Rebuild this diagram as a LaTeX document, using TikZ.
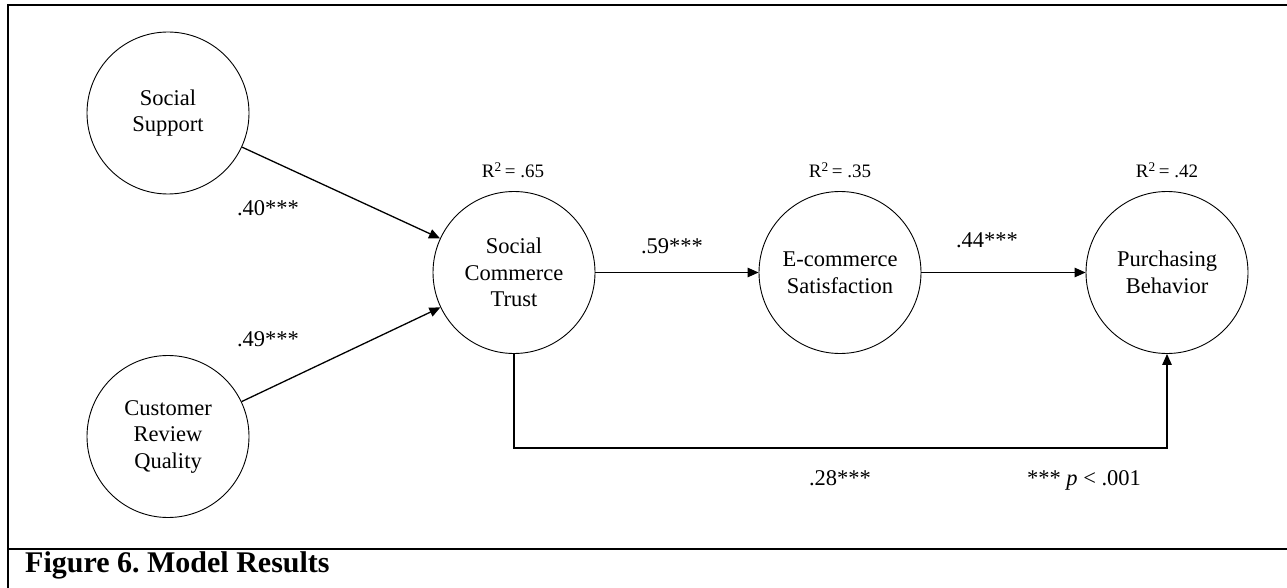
\documentclass[tikz,border=0pt]{standalone}
\usepackage{fontspec}
\setmainfont{Liberation Serif}
\usetikzlibrary{arrows.meta}
\frenchspacing
\tikzset{
  construct/.style={draw, line width=0.9pt, circle, minimum size=162pt, inner sep=0pt, align=center, font=\fontsize{22.5}{26.5}\selectfont},
  path/.style={line width=1.3pt, -{Triangle[length=11pt,width=9.5pt]}},
  coef/.style={anchor=base, inner sep=0pt, font=\fontsize{22.5}{26.5}\selectfont},
  rsq/.style={anchor=base, inner sep=0pt, font=\fontsize{19}{22}\selectfont},
  frame/.style={line width=2.4pt}
}
\begin{document}
\begin{tikzpicture}[x=1pt,y=-1pt]
\useasboundingbox (0,0) rectangle (1287,588);
% frame
\draw[frame] (8,588) -- (8,5) -- (1290,5);
\draw[frame] (8,549) -- (1290,549);
\node[anchor=base west, inner sep=0pt, font=\fontsize{30}{34}\selectfont\bfseries] (cap) at (25,572) {Figure 6. Model Results};
% constructs
\node[construct] (ss) at (168,113) {Social\\Support};
\node[construct] (crq) at (168,436.5) {Customer\\Review\\Quality};
\node[construct] (sct) at (514,272.5) {Social\\Commerce\\Trust};
\node[construct] (es) at (840,272.5) {E-commerce\\Satisfaction};
\node[construct] (pb) at (1167,272.5) {Purchasing\\Behavior};
% R squared
\node[rsq] (r1) at (513,178) {R\textsuperscript{2}\,= .65};
\node[rsq] (r2) at (840,178) {R\textsuperscript{2}\,= .35};
\node[rsq] (r3) at (1167,178) {R\textsuperscript{2}\,= .42};
% paths
\draw[path] (ss) -- (sct);
\draw[path] (crq) -- (sct);
\draw[path] (sct) -- (es);
\draw[path] (es) -- (pb);
\coordinate (low) at (840,448);
\draw[path] (sct.south) |- (low) -| (pb.south);
% coefficients
\node[coef] (c1) at (268,215) {.40***};
\node[coef] (c2) at (268,346) {.49***};
\node[coef] (c3) at (672,253) {.59***};
\node[coef] (c4) at (987,247) {.44***};
\node[coef] (c5) at (840,485) {.28***};
\node[coef] (note) at (1084,485) {*** \textit{p} < .001};
\end{tikzpicture}
\end{document}
